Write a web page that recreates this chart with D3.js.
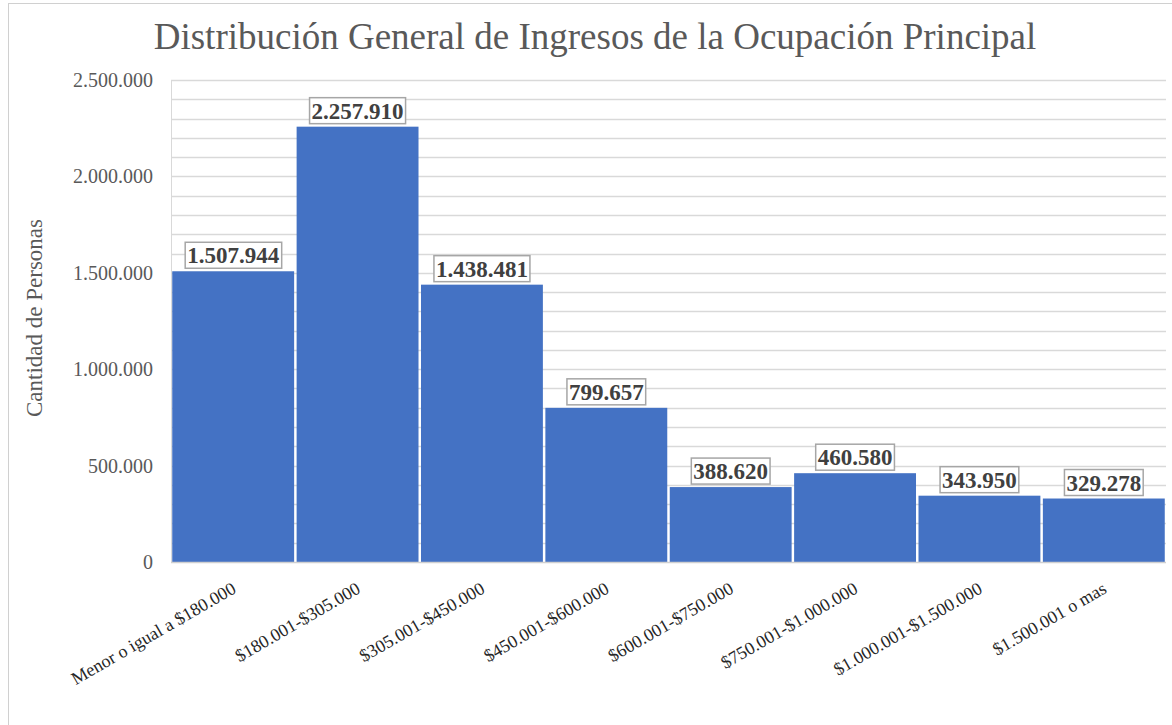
<!DOCTYPE html>
<html>
<head>
<meta charset="utf-8">
<script src="https://d3js.org/d3.v7.min.js"></script>
<style>
    body { margin: 0; background: #fff; }
    svg { display: block; font-family: 'Liberation Serif', 'Times New Roman', serif; }
</style>
</head>
<body>
<div id="chart"></div>
<script>
var categories = ["Menor o igual a $180.000", "$180.001-$305.000", "$305.001-$450.000",
    "$450.001-$600.000", "$600.001-$750.000", "$750.001-$1.000.000",
    "$1.000.001-$1.500.000", "$1.500.001 o mas"];
var values = [1507944, 2257910, 1438481, 799657, 388620, 460580, 343950, 329278];
var majorTicks = [0, 500000, 1000000, 1500000, 2000000, 2500000];

var width = 1172, height = 725;
var svg = d3.select("#chart").append("svg")
    .attr("width", width)
    .attr("height", height);

// chart frame (cropped at right/bottom)
svg.append("rect")
    .attr("x", 8.5).attr("y", 3.5)
    .attr("width", 1200).attr("height", 800)
    .style("fill", "white")
    .style("stroke", "#d0d0d0")
    .style("stroke-width", "1px");

var fmt = function(v) { return d3.format(",")(v).replace(/,/g, "."); };

var x = d3.scaleBand()
    .domain(categories)
    .range([171, 1166])
    .paddingInner(0.02)
    .paddingOuter(0.01);

var y = d3.scaleLinear()
    .domain([0, 2500000])
    .range([562, 80]);

// minor + major gridlines every 100.000
svg.append("g")
    .selectAll("line")
    .data(d3.range(100000, 2500001, 100000))
    .enter().append("line")
    .attr("x1", 171).attr("x2", 1166)
    .attr("y1", function(d) { return Math.round(y(d)) + 0.5; })
    .attr("y2", function(d) { return Math.round(y(d)) + 0.5; })
    .style("stroke", "#d9d9d9")
    .style("stroke-width", "1.3px");

svg.append("line")
    .attr("x1", 171.5).attr("x2", 171.5)
    .attr("y1", 80).attr("y2", 562)
    .style("stroke", "#d9d9d9");

// bars
svg.append("g")
    .selectAll("rect")
    .data(values)
    .enter().append("rect")
    .attr("x", function(d, i) { return x(categories[i]); })
    .attr("width", x.bandwidth())
    .attr("y", function(d) { return y(d); })
    .attr("height", function(d) { return y(0) - y(d); })
    .style("fill", "#4472C4");

// baseline
svg.append("line")
    .attr("x1", 171).attr("x2", 1166)
    .attr("y1", 562.5).attr("y2", 562.5)
    .style("stroke", "#d0d0d0")
    .style("stroke-width", "1.5px");

// y axis tick labels
var yAxis = d3.axisLeft(y).tickValues(majorTicks).tickSize(0).tickPadding(18)
    .tickFormat(function(d) { return fmt(d); });
var gy = svg.append("g").attr("transform", "translate(171,0)").call(yAxis);
gy.select(".domain").remove();
gy.selectAll("text")
    .style("font-family", "'Liberation Serif', serif")
    .style("font-size", "20px")
    .style("fill", "#595959");

// x axis labels, rotated
svg.append("g")
    .selectAll("text")
    .data(categories)
    .enter().append("text")
    .attr("transform", function(d) {
        return "translate(" + (x(d) + x.bandwidth() / 2 + 4) + ",592) rotate(-30)";
    })
    .attr("text-anchor", "end")
    .style("font-size", "18px")
    .style("fill", "#262626")
    .text(function(d) { return d; });

// data labels with boxes
var labels = svg.append("g")
    .selectAll("g")
    .data(values)
    .enter().append("g")
    .attr("transform", function(d, i) {
        return "translate(" + (x(categories[i]) + x.bandwidth() / 2) + "," + (y(d) - 3) + ")";
    });
labels.append("text")
    .attr("text-anchor", "middle")
    .attr("y", -5)
    .style("font-size", "23px")
    .style("font-weight", "bold")
    .style("fill", "#404040")
    .text(function(d) { return fmt(d); });
labels.each(function() {
    var g = d3.select(this);
    var bb = g.select("text").node().getBBox();
    g.insert("rect", "text")
        .attr("x", bb.x - 2).attr("y", -26)
        .attr("width", bb.width + 4).attr("height", 26)
        .style("fill", "white")
        .style("stroke", "#a6a6a6")
        .style("stroke-width", "1.5px");
});

// title
svg.append("text")
    .attr("x", 595)
    .attr("y", 49)
    .attr("text-anchor", "middle")
    .style("font-size", "37px")
    .style("fill", "#595959")
    .text("Distribución General de Ingresos de la Ocupación Principal");

// y axis title
svg.append("text")
    .attr("transform", "translate(42,318) rotate(-90)")
    .attr("text-anchor", "middle")
    .style("font-size", "23px")
    .style("fill", "#595959")
    .text("Cantidad de Personas");
</script>
</body>
</html>
